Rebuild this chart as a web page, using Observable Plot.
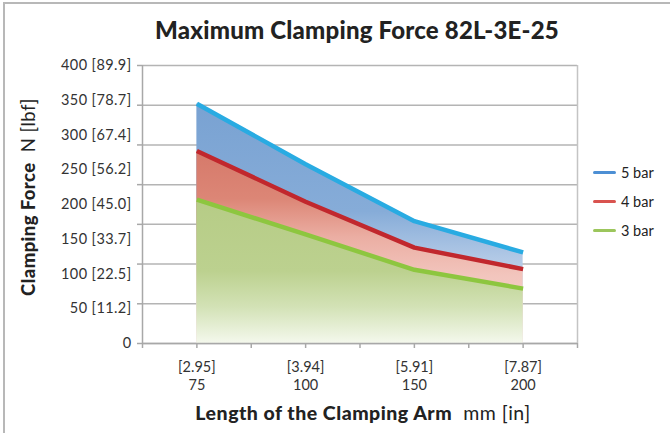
<!DOCTYPE html>
<html>
<head>
<meta charset="utf-8">
<script src="https://cdn.jsdelivr.net/npm/d3@7"></script>
<script src="https://cdn.jsdelivr.net/npm/@observablehq/plot@0.6"></script>
<style>
  html, body { margin: 0; padding: 0; background: #fff; }
  #wrap { position: relative; width: 670px; height: 433px; overflow: hidden; font-family: Lato, "Open Sans", sans-serif; color: #222; }
  #border { position: absolute; left: 3px; top: 2px; width: 700px; height: 460px; border-left: 2px solid #b8b8b8; border-top: 2px solid #b8b8b8; }
  #title { position: absolute; left: 0; width: 714px; top: 15px; text-align: center; font-weight: 900; font-size: 24px; letter-spacing: 0.2px; }
  #ytitle { position: absolute; left: 28px; top: 197px; transform: translate(-50%, -50%) rotate(-90deg); white-space: nowrap; font-size: 18.5px; letter-spacing: 0.4px; }
  #xtitle { position: absolute; left: 363px; top: 412px; transform: translate(-50%, -50%); white-space: nowrap; font-size: 19.5px; letter-spacing: 0.5px; }
  .b { font-weight: 900; }
  #legend { position: absolute; left: 593px; top: 158px; font-size: 14.5px; }
  .li { display: flex; align-items: center; height: 29px; }
  .sw { width: 23px; height: 3.5px; border-radius: 2px; margin-right: 5px; }
  #chart svg { position: absolute; left: 0; top: 0; }
  #chart svg g[aria-label="y-axis tick label"] text { letter-spacing: 0.4px; }
</style>
</head>
<body>
<div id="wrap">
  <div id="border"></div>
  <div id="chart"></div>
  <div id="title">Maximum Clamping Force 82L-3E-25</div>
  <div id="ytitle"><span class="b">Clamping Force</span>&nbsp;&nbsp;N [lbf]</div>
  <div id="xtitle"><span class="b">Length of the Clamping Arm</span>&nbsp;&nbsp;mm [in]</div>
  <div id="legend"></div>
</div>
<script>
// ---- data ----
const armLength = [75, 100, 150, 200];
const armLengthIn = ["2.95", "3.94", "5.91", "7.87"];
const force5bar = [345, 258, 176, 131];
const force4bar = [277, 204, 138, 107];
const force3bar = [207, 157, 106, 79];
const seriesNames = ["5 bar", "4 bar", "3 bar"];
const yTicks = [0, 50, 100, 150, 200, 250, 300, 350, 400];
const yTickLabels = ["0", "50 [11.2]", "100 [22.5]", "150 [33.7]", "200 [45.0]", "250 [56.2]", "300 [67.4]", "350 [78.7]", "400 [89.9]"];
const gridValues = [0, 57.14, 114.29, 171.43, 228.57, 285.71, 342.86, 400];

// ---- table ----
const idx = armLength.map((_, i) => i + 1);
const rows = idx.map((i, k) => ({i, f5: force5bar[k], f4: force4bar[k], f3: force3bar[k]}));
const xTickMarks = [0.5, 1, 1.5, 2, 2.5, 3, 3.5, 4, 4.5];

const lineColors = ["#29abe2", "#c1272d", "#8dc63f"];
const legendColors = ["#4d8fd4", "#d9534f", "#9cc65c"];

const plot = Plot.plot({
  width: 670,
  height: 433,
  marginLeft: 142,
  marginRight: 93,
  marginTop: 65,
  marginBottom: 90,
  style: {fontFamily: "Lato, 'Open Sans', sans-serif", fontSize: "14px", color: "#333", background: "transparent"},
  x: {type: "linear", domain: [0.5, 4.5], axis: null},
  y: {domain: [0, 400], axis: null},
  marks: [
    Plot.ruleY(gridValues, {stroke: "#b4b4b4", strokeWidth: 1.5}),
    Plot.areaY(rows, {x: "i", y: "f5", fill: "url(#gBlue)", curve: "linear"}),
    Plot.areaY(rows, {x: "i", y: "f4", fill: "url(#gRed)", curve: "linear"}),
    Plot.areaY(rows, {x: "i", y: "f3", fill: "url(#gGreen)", curve: "linear"}),
    Plot.lineY(rows, {x: "i", y: "f5", stroke: lineColors[0], strokeWidth: 4.5, strokeLinecap: "butt"}),
    Plot.lineY(rows, {x: "i", y: "f4", stroke: lineColors[1], strokeWidth: 4.5, strokeLinecap: "butt"}),
    Plot.lineY(rows, {x: "i", y: "f3", stroke: lineColors[2], strokeWidth: 4.5, strokeLinecap: "butt"}),
    Plot.ruleX([0.5], {stroke: "#a8a8a8", strokeWidth: 1.5}),
    Plot.ruleX([4.5], {stroke: "#c4c4c4", strokeWidth: 1.5}),
    Plot.ruleY([0], {stroke: "#a8a8a8", strokeWidth: 1.5}),
    Plot.axisY({ticks: gridValues, tickSize: 5, tickFormat: () => "", label: null, stroke: "#a8a8a8", strokeWidth: 1.5}),
    Plot.axisY({ticks: yTicks, tickSize: 0, tickPadding: 11, label: null, tickFormat: (d) => yTickLabels[yTicks.indexOf(d)], fill: "#333", fontSize: 14.5}),
    Plot.axisX({ticks: xTickMarks, tickSize: 5, tickFormat: () => "", label: null, stroke: "#a8a8a8", strokeWidth: 1.5}),
    Plot.axisX({ticks: idx, tickSize: 0, tickPadding: 16, lineHeight: 1.22, label: null, tickFormat: (d) => `[${armLengthIn[d - 1]}]\n${armLength[d - 1]}`, fill: "#333", fontSize: 14.5})
  ]
});

// gradients
const ns = "http://www.w3.org/2000/svg";
const defs = document.createElementNS(ns, "defs");
function grad(id, stops) {
  const g = document.createElementNS(ns, "linearGradient");
  g.setAttribute("id", id);
  g.setAttribute("x1", "0"); g.setAttribute("y1", "0");
  g.setAttribute("x2", "0"); g.setAttribute("y2", "1");
  for (const [o, c] of stops) {
    const s = document.createElementNS(ns, "stop");
    s.setAttribute("offset", o);
    s.setAttribute("stop-color", c);
    g.appendChild(s);
  }
  defs.appendChild(g);
}
grad("gBlue", [[0, "#79a2d2"], [0.45, "#86acd8"], [0.65, "#b2c9e6"], [1, "#dfe9f5"]]);
grad("gRed", [[0, "#d6796a"], [0.25, "#dc8676"], [0.45, "#ebaea3"], [0.65, "#f2c5bd"], [1, "#f8dcd6"]]);
grad("gGreen", [[0, "#b6cc86"], [0.5, "#bcd18f"], [0.75, "#d3e2b6"], [1, "#f4f8ec"]]);
plot.insertBefore(defs, plot.firstChild);

document.getElementById("chart").appendChild(plot);

// legend
const leg = document.getElementById("legend");
seriesNames.forEach((n, k) => {
  const d = document.createElement("div");
  d.className = "li";
  d.innerHTML = `<span class="sw" style="background:${legendColors[k]}"></span><span>${n}</span>`;
  leg.appendChild(d);
});
</script>
</body>
</html>
